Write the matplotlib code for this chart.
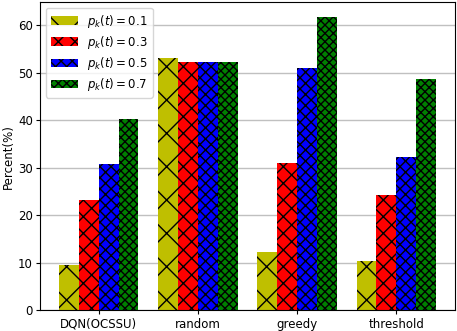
import numpy as np
import matplotlib
matplotlib.use("Agg")
import matplotlib.pyplot as plt

methods = ["DQN(OCSSU)", "random", "greedy", "threshold"]
probs = ["0.1", "0.3", "0.5", "0.7"]
percent = [
    [9.5, 53.1, 12.3, 10.5],   # p=0.1
    [23.2, 52.3, 31.0, 24.2],  # p=0.3
    [30.9, 52.2, 51.1, 32.3],  # p=0.5
    [40.3, 52.3, 61.8, 48.6],  # p=0.7
]
COLORS = ["y", "r", "b", "g"]
HATCHES = ["x", "xx", "xxx", "xxxx"]

plt.rcParams["font.size"] = 8.5

fig, ax = plt.subplots(figsize=(4.57, 3.31), dpi=100)
x = np.arange(len(methods))
w = 0.2
for i, (p, vals) in enumerate(zip(probs, percent)):
    ax.bar(x + (i - 1.5) * w, vals, w, color=COLORS[i], hatch=HATCHES[i],
           label=rf"$p_k(t) = {p}$")

ax.set_xticks(x)
ax.set_xticklabels(methods)
ax.tick_params(length=3, pad=2.2)
ax.set_ylabel("Percent(%)", labelpad=2)
ax.yaxis.grid(True, color="#c0c0c0", linewidth=1)
ax.set_axisbelow(True)
ax.legend(loc="upper left", fontsize=8.5, handlelength=2.3, labelspacing=0.35,
          borderaxespad=0.5)
fig.subplots_adjust(left=0.088, right=0.995, bottom=0.062, top=0.994)
fig.savefig("out.png", dpi=100)
